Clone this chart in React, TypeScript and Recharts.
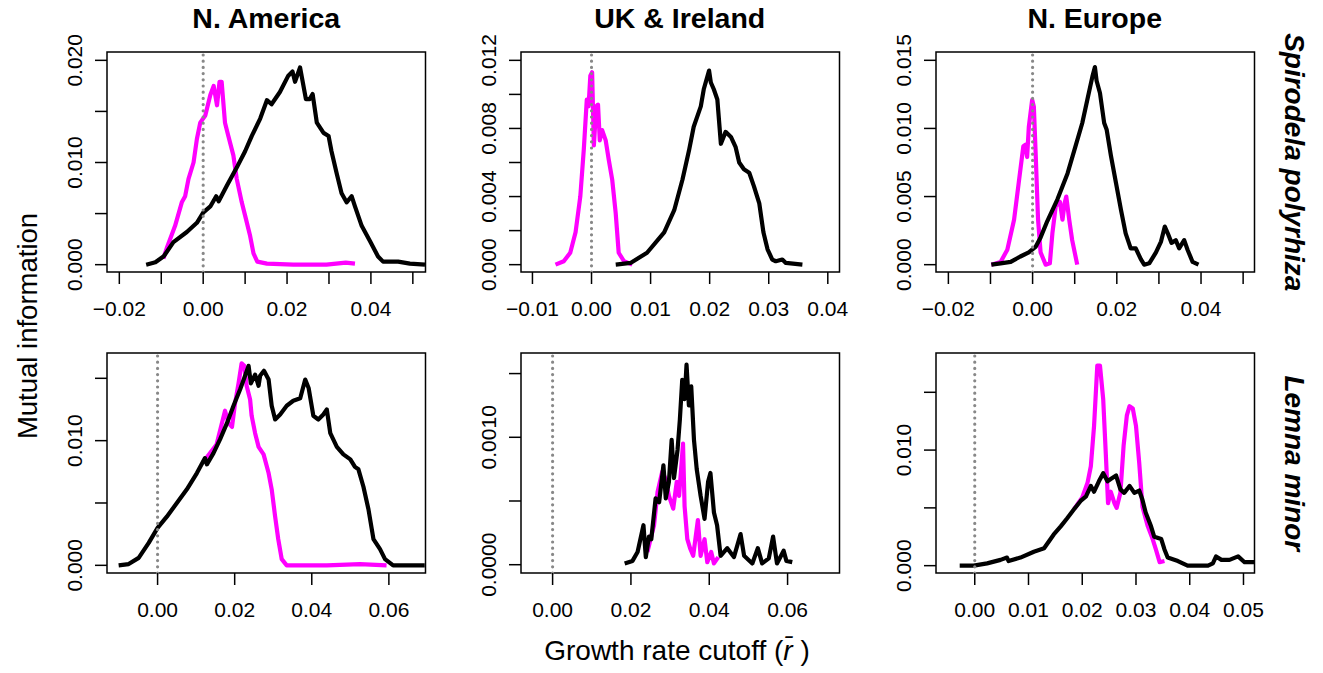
import { LineChart, Line, XAxis, YAxis, ReferenceLine, ReferenceArea } from 'recharts'

type Pt = [number, number]

const FONT = '"Liberation Sans", Arial, Helvetica, sans-serif'
const MAGENTA = '#ff00ff'
const BLACK = '#000000'

const regions = ['N. America', 'UK & Ireland', 'N. Europe']
const species = ['Spirodela polyrhiza', 'Lemna minor']

// curves: [growth rate cutoff, mutual information]
const naSpirodelaBlack: Pt[] = [
  [-0.0136, 0], [-0.0114, 0.00023], [-0.0094, 0.00082], [-0.0071, 0.0022], [-0.0039, 0.0032],
  [-0.0015, 0.0041], [0, 0.0051], [0.0017, 0.0057], [0.0031, 0.0067], [0.0037, 0.0062],
  [0.0056, 0.0077], [0.008, 0.0095], [0.01, 0.0111], [0.0116, 0.0126], [0.0136, 0.0143],
  [0.0152, 0.0161], [0.0163, 0.0157], [0.0183, 0.0169], [0.0203, 0.0185], [0.0213, 0.0189],
  [0.0219, 0.0179], [0.0231, 0.0193], [0.0245, 0.0162], [0.0254, 0.0162], [0.0261, 0.0167],
  [0.0271, 0.0139], [0.0287, 0.0129], [0.0299, 0.0126], [0.0306, 0.0111], [0.0318, 0.009],
  [0.033, 0.007], [0.0342, 0.0061], [0.0354, 0.0067], [0.0362, 0.0057], [0.0378, 0.0038],
  [0.0398, 0.0023], [0.0417, 0.0008], [0.0429, 0.0003], [0.0465, 0.0003], [0.0493, 0.0001],
  [0.0529, 0],
]
const naSpirodelaMagenta: Pt[] = [
  [-0.0095, 0.0006], [-0.0087, 0.0016], [-0.0067, 0.0038], [-0.0051, 0.0061], [-0.0043, 0.0067],
  [-0.0035, 0.0084], [-0.0023, 0.01], [-0.0015, 0.0123], [-0.0007, 0.0139], [0.0005, 0.0146],
  [0.0017, 0.0166], [0.0025, 0.0175], [0.0033, 0.0156], [0.0039, 0.0179], [0.0044, 0.0179],
  [0.0052, 0.0139], [0.006, 0.0126], [0.0072, 0.0107], [0.008, 0.0084], [0.0092, 0.0061],
  [0.01, 0.0048], [0.0112, 0.0028], [0.012, 0.0011], [0.0129, 0.0003], [0.0152, 0.0001],
  [0.0215, 0], [0.0294, 0], [0.034, 0.0002], [0.0362, 0.0001],
]

const ukSpirodelaBlack: Pt[] = [
  [0.0041, 0], [0.0066, 0.0001], [0.0094, 0.0007], [0.0123, 0.0019], [0.014, 0.0032],
  [0.0154, 0.005], [0.0165, 0.0067], [0.0173, 0.0081], [0.0185, 0.0093], [0.019, 0.0103],
  [0.0199, 0.0114], [0.0202, 0.0107], [0.0207, 0.0103], [0.0213, 0.0097], [0.0219, 0.0071],
  [0.0227, 0.0078], [0.0236, 0.0075], [0.0244, 0.0069], [0.025, 0.006], [0.0258, 0.0056],
  [0.0267, 0.0054], [0.0275, 0.0046], [0.0284, 0.0036], [0.0291, 0.0019], [0.0298, 0.0009],
  [0.0306, 0.0003], [0.0312, 0.0002], [0.0323, 0.0003], [0.0329, 0.0001], [0.0357, 0],
]
const ukSpirodelaMagenta: Pt[] = [
  [-0.0061, 0], [-0.0047, 0.0002], [-0.0036, 0.0007], [-0.0027, 0.0019], [-0.0019, 0.004],
  [-0.0013, 0.0068], [-0.0008, 0.0097], [-0.0005, 0.0093], [-0.0002, 0.0111], [0.0001, 0.0113],
  [0.0004, 0.007], [0.0008, 0.0093], [0.0011, 0.0094], [0.0014, 0.0073], [0.0018, 0.0079],
  [0.0024, 0.0073], [0.0029, 0.0062], [0.0035, 0.005], [0.0041, 0.003], [0.0046, 0.0007],
  [0.0055, 0.0002], [0.0069, 0],
]

const neSpirodelaBlack: Pt[] = [
  [-0.0098, 0], [-0.0076, 0.0001], [-0.0052, 0.0002], [-0.0029, 0.0006], [-0.0009, 0.0009],
  [0.0007, 0.0013], [0.0019, 0.002], [0.0035, 0.0032], [0.0059, 0.0048], [0.0083, 0.0067],
  [0.0102, 0.0087], [0.0118, 0.0104], [0.013, 0.0121], [0.0142, 0.0138], [0.0148, 0.0145],
  [0.0152, 0.0135], [0.016, 0.0126], [0.017, 0.0104], [0.0176, 0.0099], [0.0186, 0.008],
  [0.0198, 0.006], [0.021, 0.004], [0.0221, 0.0023], [0.0233, 0.0012], [0.0245, 0.0012],
  [0.0257, 0.0004], [0.0265, 0], [0.0277, 0.0001], [0.0293, 0.0009], [0.0305, 0.0017],
  [0.0314, 0.0028], [0.0321, 0.0023], [0.033, 0.0016], [0.034, 0.0018], [0.0348, 0.0012],
  [0.036, 0.0018], [0.0368, 0.0011], [0.038, 0.0002], [0.0394, 0],
]
const neSpirodelaMagenta: Pt[] = [
  [-0.0098, 0], [-0.0076, 0.0002], [-0.006, 0.0011], [-0.0044, 0.0033], [-0.0033, 0.006],
  [-0.0022, 0.0087], [-0.0017, 0.0088], [-0.0013, 0.0079], [-0.0009, 0.0101], [-0.0001, 0.0121],
  [0.0003, 0.0116], [0.0007, 0.0084], [0.0013, 0.0033], [0.0019, 0.0009], [0.0031, 0],
  [0.0041, 0.0001], [0.0047, 0.0023], [0.0055, 0.0043], [0.0065, 0.0046], [0.0071, 0.0033],
  [0.0076, 0.0045], [0.008, 0.005], [0.0087, 0.0033], [0.0094, 0.0018], [0.0106, 0],
]

const naLemnaBlack: Pt[] = [
  [-0.0101, 0], [-0.0075, 0.0001], [-0.0049, 0.0006], [-0.0023, 0.0018], [0, 0.003],
  [0.0024, 0.0039], [0.005, 0.005], [0.0076, 0.0061], [0.0102, 0.0074], [0.0123, 0.0086],
  [0.0128, 0.0081], [0.0145, 0.009], [0.0162, 0.0101], [0.018, 0.0114], [0.0197, 0.0128],
  [0.0214, 0.0141], [0.0227, 0.0152], [0.0236, 0.016], [0.0242, 0.0146], [0.0253, 0.0153],
  [0.0262, 0.0144], [0.0266, 0.0152], [0.0276, 0.0156], [0.0288, 0.0149], [0.0296, 0.0128],
  [0.0305, 0.0117], [0.0318, 0.0121], [0.0335, 0.0128], [0.0352, 0.0132], [0.037, 0.0134],
  [0.0383, 0.0149], [0.0392, 0.0142], [0.0404, 0.012], [0.0417, 0.0117], [0.043, 0.0121],
  [0.0439, 0.0125], [0.0448, 0.0106], [0.0465, 0.0095], [0.0482, 0.0089], [0.05, 0.0085],
  [0.0512, 0.0079], [0.0521, 0.0077], [0.0534, 0.0063], [0.0547, 0.0045], [0.056, 0.0021],
  [0.0577, 0.0013], [0.059, 0.0005], [0.0611, 0], [0.0693, 0],
]
const naLemnaMagenta: Pt[] = [
  [0.0119, 0.0083], [0.0153, 0.0097], [0.0175, 0.0124], [0.0184, 0.0114], [0.0193, 0.0111],
  [0.0201, 0.013], [0.021, 0.0146], [0.0218, 0.0162], [0.0225, 0.016], [0.0231, 0.0144],
  [0.024, 0.0133], [0.0244, 0.012], [0.0253, 0.0106], [0.0262, 0.0095], [0.0275, 0.0089],
  [0.0288, 0.0074], [0.0296, 0.0061], [0.0305, 0.0039], [0.0313, 0.0021], [0.0322, 0.0005],
  [0.0335, 0], [0.0439, 0], [0.0525, 0.0001], [0.0594, 0],
]

const ukLemnaBlack: Pt[] = [
  [0.0184, 0.00001], [0.0204, 0.00003], [0.0217, 0.0001], [0.0232, 0.00031], [0.0238, 0.00006],
  [0.0246, 0.00022], [0.0252, 0.0002], [0.0263, 0.00052], [0.0272, 0.00049], [0.0283, 0.00078],
  [0.0289, 0.00052], [0.0297, 0.00065], [0.0304, 0.00098], [0.031, 0.00068], [0.0319, 0.0009],
  [0.0325, 0.00114], [0.0331, 0.00145], [0.0337, 0.0013], [0.0342, 0.00157], [0.0348, 0.00125],
  [0.0354, 0.0014], [0.0361, 0.00098], [0.0368, 0.00075], [0.0378, 0.00054], [0.0388, 0.00036],
  [0.0397, 0.00065], [0.0403, 0.00072], [0.0412, 0.00041], [0.042, 0.00031], [0.0429, 0.00007],
  [0.0446, 0.00013], [0.0463, 0.00006], [0.048, 0.00024], [0.0489, 0.00007], [0.051, 0.00001],
  [0.0524, 0.00013], [0.0535, 0.00001], [0.0552, 0.00005], [0.0563, 0.00022], [0.0573, 0.00001],
  [0.059, 0.00011], [0.0597, 0.00003], [0.0612, 0.00002],
]
const ukLemnaMagenta: Pt[] = [
  [0.0242, 0.0001], [0.0259, 0.00031], [0.0268, 0.00057], [0.028, 0.00073], [0.0289, 0.00067],
  [0.0297, 0.00054], [0.0308, 0.00044], [0.0317, 0.00065], [0.0323, 0.00054], [0.0333, 0.00095],
  [0.0337, 0.00046], [0.0344, 0.0002], [0.0351, 0.00013], [0.0359, 0.00007], [0.0371, 0.00035],
  [0.0378, 0.00007], [0.0388, 0.0002], [0.0395, 0.00002], [0.0405, 0.0001], [0.0412, 0.00001],
  [0.0423, 0.00006],
]

const neLemnaBlack: Pt[] = [
  [-0.0028, 0], [-0.0002, 0], [0.0023, 0.0002], [0.0048, 0.0005], [0.006, 0.0007],
  [0.0063, 0.0004], [0.0085, 0.0007], [0.011, 0.0012], [0.0129, 0.0015], [0.0147, 0.0027],
  [0.016, 0.0034], [0.0172, 0.0041], [0.0185, 0.0049], [0.0197, 0.0056], [0.0207, 0.006],
  [0.0216, 0.0069], [0.0222, 0.0064], [0.0231, 0.0073], [0.0239, 0.008], [0.0247, 0.0073],
  [0.0253, 0.0075], [0.0263, 0.0078], [0.0271, 0.0066], [0.0278, 0.0063], [0.0288, 0.0069],
  [0.0297, 0.0063], [0.0306, 0.0065], [0.0312, 0.0057], [0.0318, 0.0046], [0.0328, 0.0034],
  [0.0334, 0.0025], [0.0347, 0.0023], [0.0353, 0.0014], [0.0359, 0.0007], [0.0378, 0.0004],
  [0.0396, 0], [0.0434, 0], [0.0443, 0.0002], [0.0449, 0.0008], [0.0459, 0.0005],
  [0.0474, 0.0005], [0.049, 0.0008], [0.0502, 0.0003], [0.052, 0.0003],
]
const neLemnaMagenta: Pt[] = [
  [0.0185, 0.0049], [0.02, 0.0059], [0.021, 0.0072], [0.0216, 0.0086], [0.0222, 0.0121],
  [0.0228, 0.0173], [0.0233, 0.0173], [0.0239, 0.0144], [0.0244, 0.0095], [0.0248, 0.0054],
  [0.0253, 0.0064], [0.026, 0.0054], [0.0264, 0.005], [0.0271, 0.0063], [0.0277, 0.0104],
  [0.0283, 0.013], [0.0288, 0.0138], [0.0294, 0.0136], [0.03, 0.0121], [0.0306, 0.0089],
  [0.0312, 0.0051], [0.0322, 0.0034], [0.0331, 0.0023], [0.0337, 0.0014], [0.0344, 0.0003],
  [0.0353, 0.0004],
]

// axis ticks and their printed labels ('' = tick mark only)
const xTicksWide = [-0.02, -0.01, 0, 0.01, 0.02, 0.03, 0.04, 0.05]
const xLabelsWide = ['−0.02', '', '0.00', '', '0.02', '', '0.04', '']
const xTicksUk = [-0.01, 0, 0.01, 0.02, 0.03, 0.04]
const xLabelsUk = ['−0.01', '0.00', '0.01', '0.02', '0.03', '0.04']
const xTicksLemna = [0, 0.02, 0.04, 0.06]
const xLabelsLemna = ['0.00', '0.02', '0.04', '0.06']
const xTicksNeLemna = [0, 0.01, 0.02, 0.03, 0.04, 0.05]
const xLabelsNeLemna = ['0.00', '0.01', '0.02', '0.03', '0.04', '0.05']

const yTicksNaSp = [0, 0.005, 0.01, 0.015, 0.02]
const yLabelsNaSp = ['0.000', '', '0.010', '', '0.020']
const yTicksUkSp = [0, 0.002, 0.004, 0.006, 0.008, 0.01, 0.012]
const yLabelsUkSp = ['0.000', '', '0.004', '', '0.008', '', '0.012']
const yTicks015 = [0, 0.005, 0.01, 0.015]
const yLabelsNeSp = ['0.000', '0.005', '0.010', '0.015']
const yLabels015 = ['0.000', '', '0.010', '']
const yTicksUkLe = [0, 0.0005, 0.001, 0.0015]
const yLabelsUkLe = ['0.0000', '', '0.0010', '']

interface PanelSpec {
  left: number
  top: number
  w: number
  h: number
  xDomain: [number, number]
  yDomain: [number, number]
  xTicks: number[]
  xLabels: string[]
  yTicks: number[]
  yLabels: string[]
  black: Pt[]
  magenta: Pt[]
}

const COLS = [107, 520.5, 935.5]
const ROWS = [52.3, 353.3]
const BOX_W = 318.5
const BOX_H = 220

const panels: PanelSpec[] = [
  {
    left: COLS[0], top: ROWS[0], w: BOX_W, h: BOX_H,
    xDomain: [-0.02294, 0.05302], yDomain: [-0.000718, 0.020816],
    xTicks: xTicksWide, xLabels: xLabelsWide, yTicks: yTicksNaSp, yLabels: yLabelsNaSp,
    black: naSpirodelaBlack, magenta: naSpirodelaMagenta,
  },
  {
    left: COLS[1], top: ROWS[0], w: BOX_W, h: BOX_H,
    xDomain: [-0.011938, 0.04198], yDomain: [-0.000431, 0.01249],
    xTicks: xTicksUk, xLabels: xLabelsUk, yTicks: yTicksUkSp, yLabels: yLabelsUkSp,
    black: ukSpirodelaBlack, magenta: ukSpirodelaMagenta,
  },
  {
    left: COLS[2], top: ROWS[0], w: BOX_W, h: BOX_H,
    xDomain: [-0.02294, 0.0527], yDomain: [-0.000538, 0.01561],
    xTicks: xTicksWide, xLabels: xLabelsWide, yTicks: yTicks015, yLabels: yLabelsNeSp,
    black: neSpirodelaBlack, magenta: neSpirodelaMagenta,
  },
  {
    left: COLS[0], top: ROWS[1], w: BOX_W, h: BOX_H,
    xDomain: [-0.01312, 0.0695], yDomain: [-0.000615, 0.01703],
    xTicks: xTicksLemna, xLabels: xLabelsLemna, yTicks: yTicks015, yLabels: yLabels015,
    black: naLemnaBlack, magenta: naLemnaMagenta,
  },
  {
    left: COLS[1], top: ROWS[1], w: BOX_W, h: BOX_H,
    xDomain: [-0.00807, 0.07326], yDomain: [-0.0000651, 0.0016615],
    xTicks: xTicksLemna, xLabels: xLabelsLemna, yTicks: yTicksUkLe, yLabels: yLabelsUkLe,
    black: ukLemnaBlack, magenta: ukLemnaMagenta,
  },
  {
    left: COLS[2], top: ROWS[1], w: BOX_W, h: BOX_H,
    xDomain: [-0.00721, 0.05205], yDomain: [-0.000635, 0.0184],
    xTicks: xTicksNeLemna, xLabels: xLabelsNeLemna, yTicks: yTicks015, yLabels: yLabels015,
    black: neLemnaBlack, magenta: neLemnaMagenta,
  },
]

const toRows = (pts: Pt[]) => pts.map(([x, y]) => ({ x, y }))

const labelFor = (ticks: number[], labels: string[], v: number) => {
  const i = ticks.findIndex((t) => Math.abs(t - v) < 1e-9)
  return i >= 0 ? labels[i] : ''
}

const AXIS_W = 70
const AXIS_H = 60
const PAD = 30
const TICK_FONT = 21
const LINE_W = 4.2

function Panel({ p }: { p: PanelSpec }) {
  const xTick = (props: any) => {
    const label = labelFor(p.xTicks, p.xLabels, props.payload.value)
    if (!label) return <g />
    return (
      <text x={props.x} y={props.y + 32} textAnchor="middle" fontSize={TICK_FONT} fontFamily={FONT} fill="#000">
        {label}
      </text>
    )
  }
  const yTick = (props: any) => {
    const label = labelFor(p.yTicks, p.yLabels, props.payload.value)
    if (!label) return <g />
    const bx = props.x - 13
    return (
      <text
        x={bx}
        y={props.y}
        transform={`rotate(-90 ${bx} ${props.y})`}
        textAnchor="middle"
        fontSize={TICK_FONT}
        fontFamily={FONT}
        fill="#000"
      >
        {label}
      </text>
    )
  }
  return (
    <div style={{ position: 'absolute', left: p.left - AXIS_W, top: p.top - PAD }}>
      <LineChart
        width={p.w + AXIS_W + PAD}
        height={p.h + PAD + AXIS_H}
        margin={{ top: PAD, right: PAD, left: 0, bottom: 0 }}
        style={{ overflow: 'visible' }}
      >
        <XAxis
          type="number"
          dataKey="x"
          domain={p.xDomain}
          ticks={p.xTicks}
          interval={0}
          allowDataOverflow
          height={AXIS_H}
          tickSize={12}
          tickMargin={0}
          axisLine={false}
          tickLine={{ stroke: BLACK, strokeWidth: 1.5 }}
          tick={xTick}
        />
        <YAxis
          type="number"
          domain={p.yDomain}
          ticks={p.yTicks}
          interval={0}
          allowDataOverflow
          width={AXIS_W}
          tickSize={12}
          tickMargin={0}
          axisLine={false}
          tickLine={{ stroke: BLACK, strokeWidth: 1.5 }}
          tick={yTick}
        />
        <ReferenceArea
          x1={p.xDomain[0]}
          x2={p.xDomain[1]}
          y1={p.yDomain[0]}
          y2={p.yDomain[1]}
          fill="none"
          fillOpacity={0}
          stroke={BLACK}
          strokeWidth={1.5}
          ifOverflow="visible"
        />
        <Line
          data={toRows(p.magenta)}
          dataKey="y"
          stroke={MAGENTA}
          strokeWidth={LINE_W}
          strokeLinejoin="round"
          dot={false}
          isAnimationActive={false}
        />
        <Line
          data={toRows(p.black)}
          dataKey="y"
          stroke={BLACK}
          strokeWidth={LINE_W}
          strokeLinejoin="round"
          dot={false}
          isAnimationActive={false}
        />
        <ReferenceLine
          x={0}
          stroke="#888888"
          strokeWidth={3.2}
          strokeDasharray="0 6.2"
          strokeLinecap="round"
          ifOverflow="visible"
        />
      </LineChart>
    </div>
  )
}

export default function App() {
  const titleY = 28
  return (
    <div
      style={{
        position: 'absolute',
        left: 0,
        top: 0,
        width: 1323,
        height: 673,
        background: '#fff',
        overflow: 'hidden',
      }}
    >
      <svg width={1323} height={673} style={{ position: 'absolute', left: 0, top: 0 }} fontFamily={FONT}>
        {regions.map((r, i) => (
          <text
            key={r}
            x={COLS[i] + BOX_W / 2}
            y={titleY}
            textAnchor="middle"
            fontSize={28.5}
            fontWeight="bold"
          >
            {r}
          </text>
        ))}
        {species.map((s, i) => {
          const cy = ROWS[i] + BOX_H / 2
          return (
            <text
              key={s}
              x={1285}
              y={cy}
              transform={`rotate(90 1285 ${cy})`}
              textAnchor="middle"
              fontSize={28}
              fontWeight="bold"
              fontStyle="italic"
            >
              {s}
            </text>
          )
        })}
        <text x={37} y={326} transform="rotate(-90 37 326)" textAnchor="middle" fontSize={27.5}>
          Mutual information
        </text>
        <text x={677} y={660} textAnchor="middle" fontSize={28}>
          Growth rate cutoff (<tspan fontStyle="italic">r̄</tspan> )
        </text>
      </svg>
      {panels.map((p, i) => (
        <Panel key={i} p={p} />
      ))}
    </div>
  )
}
